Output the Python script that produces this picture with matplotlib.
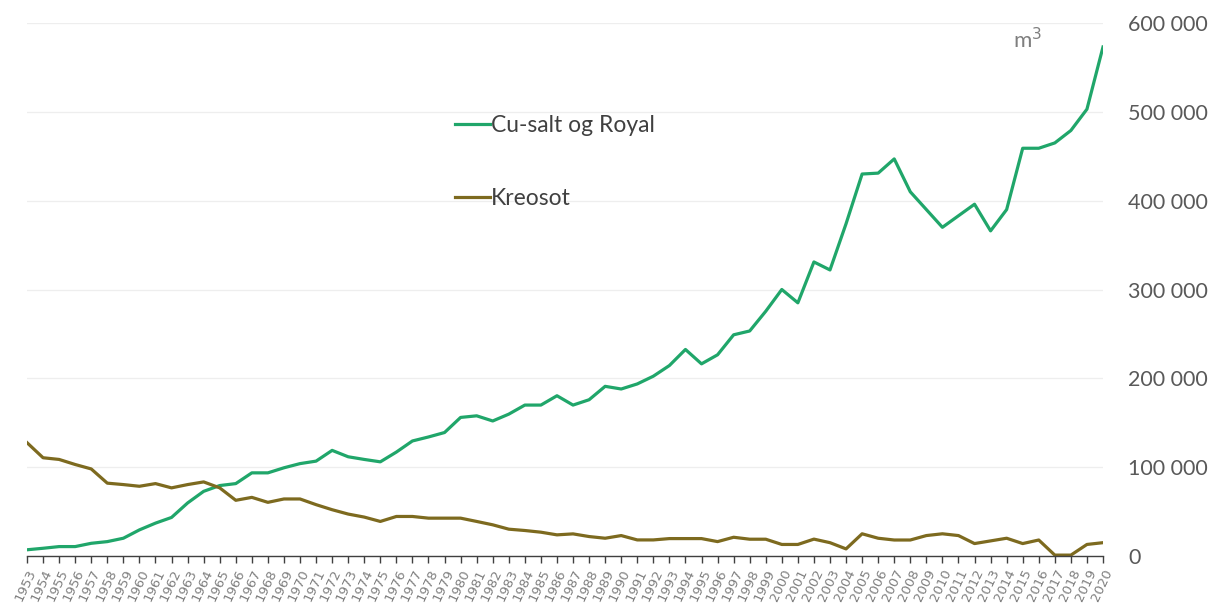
import matplotlib
matplotlib.use("Agg")
import matplotlib.pyplot as plt
from matplotlib.ticker import FuncFormatter

# years and volumes (m3)
years = list(range(1953, 2021))

cu_salt_royal = [
    7000, 8700, 10600, 10600, 14300, 16200, 20000, 29400, 37000, 43400,
    59700, 72800, 79300, 81500, 93600, 93600, 99300, 104000, 106800, 118900,
    111700, 108700, 106000, 117000, 129500, 134000, 139000, 156000, 157800, 152000,
    159700, 169900, 169900, 180400, 169900, 175900, 191000, 188000, 193700, 202400,
    214400, 232500, 216300, 226500, 249000, 253300, 275500, 300000, 285000, 331000,
    322000, 374000, 430000, 431000, 447000, 410000, 390000, 370000, 383000, 396000,
    366000, 390000, 459000, 459000, 465000, 479000, 503000, 573000,
]

kreosot = [
    127600, 110600, 108700, 103000, 98000, 82000, 80400, 78500, 81500, 76700,
    80400, 83400, 76700, 62700, 66000, 60400, 64200, 64200, 57800, 52100,
    47200, 43800, 38900, 44500, 44500, 42600, 42600, 42600, 38900, 35100,
    30200, 28700, 26800, 23800, 24900, 21900, 20000, 23000, 18100, 18100,
    19600, 19600, 19600, 16200, 21100, 18900, 18900, 13000, 13000, 19000,
    15000, 8000, 25000, 20000, 18000, 18000, 23000, 25000, 23000, 14000,
    17000, 20000, 14000, 18000, 1000, 1000, 13000, 15000,
]

series_labels = ["Cu-salt og Royal", "Kreosot"]
y_ticks = [0, 100000, 200000, 300000, 400000, 500000, 600000]

green = "#20a66a"
olive = "#7d6a1f"
text_grey = "#595959"

fig = plt.figure(figsize=(12.19, 6.04), dpi=100)
ax = fig.add_axes([27 / 1219, 48 / 604, (1103 - 27) / 1219, (556 - 23) / 604])

ax.plot(years, cu_salt_royal, color=green, linewidth=2.3, label=series_labels[0],
        solid_joinstyle="round")
ax.plot(years, kreosot, color=olive, linewidth=2.3, label=series_labels[1],
        solid_joinstyle="round")

ax.set_xlim(years[0], years[-1])
ax.set_ylim(y_ticks[0], y_ticks[-1])

# right hand value axis, no spine
ax.yaxis.tick_right()
ax.set_yticks(y_ticks)
ax.yaxis.set_major_formatter(FuncFormatter(lambda v, p: f"{int(v):,}".replace(",", " ")))
ax.tick_params(axis="y", length=0, pad=18, labelsize=15.5, labelcolor=text_grey)
for lab in ax.get_yticklabels():
    lab.set_fontfamily("Lato")
ax.grid(axis="y", color="#eeeeee", linewidth=0.9)
ax.set_axisbelow(True)

# year axis
ax.set_xticks(years)
ax.set_xticklabels([str(y) for y in years], rotation=65, ha="right", va="top",
                   rotation_mode="anchor", fontsize=9.5, color="#7f7f7f")
ax.tick_params(axis="x", length=5, width=1, color="#404040", pad=3)

for side in ["top", "left", "right"]:
    ax.spines[side].set_visible(False)
ax.spines["bottom"].set_color("#404040")
ax.spines["bottom"].set_linewidth(1)

leg = fig.legend(loc="center left", bbox_to_anchor=(444 / 1219, 1 - 162 / 604),
                 frameon=False, borderpad=0, handlelength=1.5, handletextpad=0.05,
                 labelspacing=2.3, prop={"family": "Lato", "size": 16.5})
for t in leg.get_texts():
    t.set_color("#404040")

fig.text(1013 / 1219, 1 - 40 / 604, "m$^3$", fontsize=16, color="#7f7f7f",
         family="Lato", va="center")

fig.savefig("out.png", dpi=100)
